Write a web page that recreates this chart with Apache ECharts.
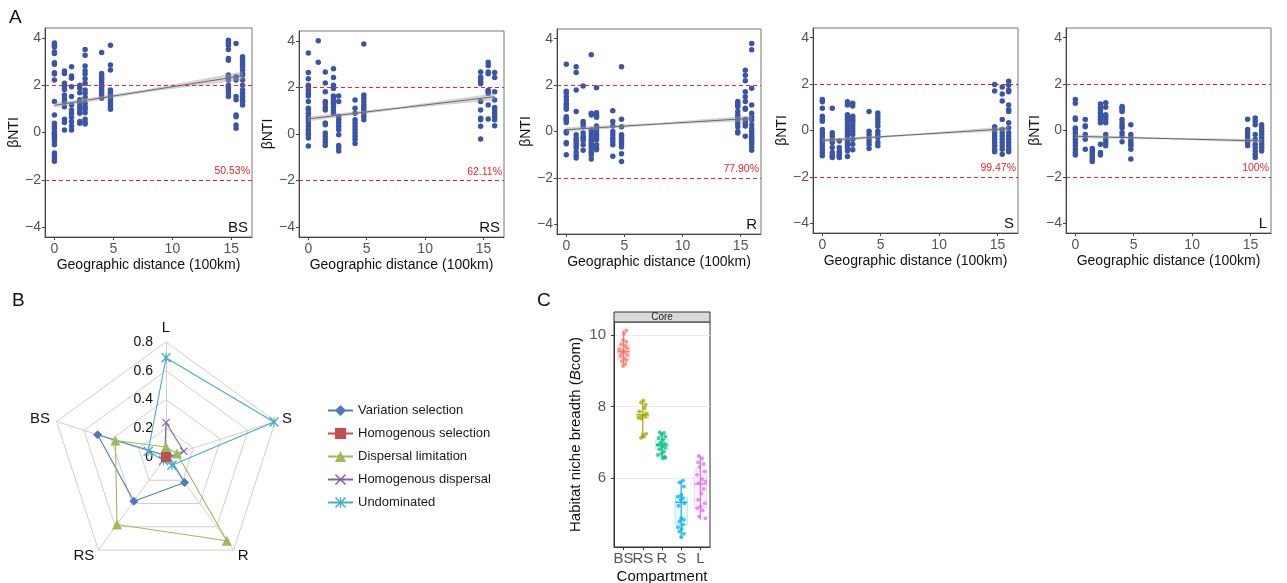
<!DOCTYPE html>
<html>
<head>
<meta charset="utf-8">
<title>βNTI and habitat niche breadth</title>
<script src="https://cdn.jsdelivr.net/npm/echarts@6/dist/echarts.min.js"></script>
<style>
  html, body { margin: 0; padding: 0; background: #fff; }
  #chart { width: 1287px; height: 583px; }
</style>
</head>
<body>
<div id="chart"></div>
<script>
// ---------- A: βNTI vs geographic distance ----------
const distCols = [0, 0.85, 1.45, 2.15, 2.6, 4.0, 4.75, 14.75, 15.4, 15.95];
const compartments = ['BS', 'RS', 'R', 'S', 'L'];

const ntiBS = [
  [3.79, 3.69, 3.62, 3.41, 3.34, 2.95, 2.89, 2.53, 2.47, 2.22, 1.31, 0.74, 0.39, 0.28, 0.18, 0.04, -0.03, -0.1, -0.17, -0.28, -0.38, -0.52, -0.87, -0.98, -1.12, -1.22],
  [2.6, 2.5, 2.08, 1.96, 1.82, 1.59, 1.45, 1.31, 1.09, 0.56, 0.42, 0.11],
  [2.78, 2.39, 2.29, 1.94, 1.52, 1.16, 0.95, 0.81, 0.65, 0.46, 0.28, 0.11],
  [2.0, 1.87, 1.68, 1.38, 1.26, 1.12, 1.02, 0.88, 0.81, 0.46, 0.39],
  [3.51, 3.27, 2.81, 2.61, 2.47, 2.27, 2.08, 1.8, 1.66, 1.49, 1.24, 1.09, 0.98, 0.84, 0.56, 0.42, 0.36],
  [3.38, 2.5, 2.39, 2.29, 2.22, 2.11, 2.0, 1.91, 1.8, 1.68, 1.59, 1.45],
  [3.69, 2.85, 2.64, 1.8, 1.68, 1.59, 1.52, 1.4, 1.31, 1.21, 1.09, 0.98],
  [3.9, 3.79, 3.69, 3.51, 3.13, 3.06, 2.43, 2.36, 2.22, 2.0, 1.91, 1.8, 1.68, 1.52],
  [3.76, 2.36, 2.22, 1.52, 1.38, 0.74, 0.67, 0.32, 0.18],
  [3.2, 3.09, 2.99, 2.89, 2.78, 2.64, 2.5, 2.43, 2.22, 2.0, 1.8, 1.66, 1.52, 1.38, 1.31, 1.16]
];
const ntiRS = [
  [3.48, 2.64, 2.37, 2.09, 2.02, 1.88, 1.74, 1.63, 1.39, 1.1, 1.03, 0.89, 0.75, 0.61, 0.47, 0.33, 0.18, 0.04, -0.03, -0.17, -0.52],
  [4.0, 3.08],
  [2.66, 2.19, 1.81, 1.39, 1.29, 1.14, 1.03, 0.47, 0.4, 0.04, -0.1, -0.24, -0.35, -0.49],
  [2.8, 2.42, 2.09, 1.95, 1.63, 1.53, 1.39, 1.31, 1.17, 1.03, 0.89],
  [1.63, 1.39, 0.75, 0.61, 0.47, 0.33, 0.18, -0.03, -0.49, -0.59, -0.73],
  [1.46, 1.1, 0.89, 0.61, 0.47, 0.33, 0.18, 0.04, -0.1, -0.24, -0.41],
  [3.86, 1.67, 1.53, 1.39, 1.24, 1.14, 1.03, 0.89, 0.75, 0.61],
  [2.66, 2.45, 2.37, 2.23, 2.16, 1.39, 1.03, 0.68, 0.61, 0.33, -0.21],
  [3.08, 2.94, 2.66, 2.59, 1.88, 1.81, 1.74, 1.24, 0.64],
  [2.64, 2.42, 1.81, 1.46, 1.14, 1.03, 0.89, 0.75, 0.61, 0.35]
];
const ntiR = [
  [2.9, 1.74, 1.67, 1.5, 1.36, 1.21, 1.14, 1.04, 0.96, 0.64, 0.57, 0.53, 0.46, 0.39, 0, -0.07, -0.47, -0.53, -1.0],
  [2.79, 2.54, 1.79, 0.86, -0.14, -0.29, -0.39, -0.5, -0.61, -0.71, -0.9, -1.04, -1.14],
  [1.96, 0.43, 0.33, 0.21, -0.07, -0.21, -0.29, -0.39, -0.57, -0.81],
  [3.31, 0.79, 0.71, 0.07, -0.07, -0.21, -0.33, -0.43, -0.53, -0.64, -0.76, -0.9, -1.0, -1.19],
  [1.89, 0.81, 0.71, 0.61, 0.24, 0.14, 0, -0.14, -0.24, -0.36, -0.57, -0.71, -0.79],
  [0.9, 0.43, 0.24, 0, -0.14, -0.29, -0.43, -0.57, -1.07],
  [2.79, 0.53, 0.21, -0.14, -0.21, -0.33, -0.43, -0.53, -0.67, -0.96, -1.29],
  [1.29, 1.21, 1.14, 1.07, 0.86, 0.71, 0.64, 0.5, 0.36, 0.21, 0, -0.07],
  [2.64, 2.43, 2.19, 1.71, 1.5, 1.29, 1.0, 0.96, 0.53, 0.43, 0.33, 0.24, -0.21],
  [3.79, 3.53, 1.86, 1.14, 0.79, 0.64, 0.5, 0.29, 0.14, 0, -0.14, -0.24, -0.33, -0.43, -0.53, -0.67, -0.81]
];
const ntiS = [
  [1.34, 1.24, 0.96, 0.61, 0.49, 0.4, 0.04, -0.1, -0.24, -0.38, -0.52, -0.66, -0.81, -0.95, -1.09],
  [0.96, -0.1, -0.24, -0.38, -0.52, -0.73, -0.95, -1.09, -1.16],
  [-0.45, -0.73, -0.88, -0.95, -1.02, -1.09, -1.16],
  [1.24, 1.1, 0.68, 0.58, 0.47, 0.33, 0.18, 0.04, -0.1, -0.24, -0.45, -0.59, -0.73, -0.88, -1.12],
  [1.17, 1.06, 0.61, 0.49, 0.4, 0.25, 0.11, -0.03, -0.17, -0.38, -0.59, -0.83],
  [0.82, -0.03, -0.17, -0.31, -0.45, -0.59, -0.78],
  [0.75, 0.61, 0.47, 0.33, 0.18, -0.03, -0.17, -0.31, -0.52, -0.66],
  [1.98, 1.7, 0.16, 0.04, -0.1, -0.24, -0.38, -0.52, -0.66, -0.81, -0.92],
  [1.88, 1.57, 1.27, 0.47, 0.04, -0.1, -0.24, -0.38, -0.52, -0.66, -0.81, -1.02],
  [2.12, 1.95, 1.74, 1.67, 1.1, 0.89, 0.82, 0.33, 0.11, -0.1, -0.24, -0.38, -0.52, -0.66, -0.81, -0.92]
];
const ntiL = [
  [1.34, 1.17, 0.54, 0.47, 0.11, 0.04, -0.1, -0.24, -0.38, -0.52, -0.66, -0.81, -0.95, -1.06],
  [0.47, 0.21, 0.16, -0.17, -0.38, -0.81],
  [-0.78, -0.88, -0.95, -1.06, -1.16, -1.26, -1.34],
  [1.14, 1.0, 0.89, 0.75, 0.61, 0.47, 0.33, -0.59, -0.95, -1.06],
  [1.2, 1.0, 0.68, 0.58, 0.47, 0.33, -0.17, -0.38, -0.52, -0.66],
  [1.03, 0.96, 0.89, 0.82, 0.47, 0.33, 0.21, 0.11, -0.1, -0.24, -0.49],
  [0.25, -0.17, -0.31, -0.45, -0.55, -0.66, -0.81, -1.23],
  [0.49, 0.04, -0.1, -0.24, -0.38, -0.52, -0.66],
  [0.54, 0.4, 0.25, -0.17, -0.38, -0.59, -0.73, -0.88, -1.02, -1.16],
  [0.25, 0.11, -0.03, -0.17, -0.31, -0.45, -0.59, -0.73, -0.88]
];
const ntiAll = [ntiBS, ntiRS, ntiR, ntiS, ntiL];

// linear fit at distance 0 and at the last column, and half width of the band (start, middle, end)
const fitStart = [1.15, 0.65, 0.08, -0.43, -0.25];
const fitEnd = [2.4, 1.6, 0.57, 0.08, -0.45];
const bandHalf = [[0.1, 0.06, 0.18], [0.1, 0.05, 0.15], [0.1, 0.05, 0.12], [0.08, 0.04, 0.1], [0.08, 0.04, 0.08]];
const pctLabels = ['50.53%', '62.11%', '77.90%', '99.47%', '100%'];
const ntiTicks = [-4, -2, 0, 2, 4];
const distTicks = [0, 5, 10, 15];

// ---------- B: radar of assembly processes ----------
const radarAxes = ['L', 'BS', 'RS', 'R', 'S'];
const processNames = ['Variation selection', 'Homogenous selection', 'Dispersal limitation', 'Homogenous dispersal', 'Undominated'];
const variationSel = [0.01, 0.5, 0.38, 0.22, 0.02];
const homogSel = [0, 0, 0, 0, 0];
const dispersalLim = [0.07, 0.37, 0.58, 0.72, 0.08];
const homogDisp = [0.24, 0.01, 0.01, 0.01, 0.13];
const undominated = [0.69, 0.13, 0.03, 0.07, 0.79];

// ---------- C: habitat niche breadth ----------
// [min, q1, median, q3, max]
const bcomBox = [
  [9.13, 9.3, 9.53, 9.72, 10.12],
  [7.13, 7.67, 7.77, 7.86, 8.17],
  [6.56, 6.8, 6.93, 7.08, 7.28],
  [4.33, 4.7, 5.33, 5.47, 5.94],
  [4.84, 5.17, 5.84, 6.2, 6.63]
];
const bcomPts = [
  [[0.14, 10.12], [0.02, 10.03], [-0.03, 9.86], [0.14, 9.81], [-0.12, 9.74], [0.09, 9.69], [0.19, 9.63], [-0.21, 9.6], [-0.03, 9.56], [0.09, 9.52], [-0.09, 9.49], [0.19, 9.44], [-0.16, 9.41], [0.02, 9.35], [0.14, 9.3], [-0.09, 9.26], [0.09, 9.19], [-0.03, 9.13]],
  [[0.03, 8.17], [-0.09, 8.11], [0.14, 8.05], [0.09, 7.95], [-0.17, 7.86], [0.17, 7.8], [-0.03, 7.74], [-0.21, 7.69], [0.14, 7.72], [-0.09, 7.67], [0.17, 7.24], [0.0, 7.21], [0.05, 7.16], [-0.09, 7.13]],
  [[-0.12, 7.28], [0.1, 7.26], [-0.03, 7.21], [0.17, 7.16], [-0.17, 7.12], [0.05, 7.07], [-0.07, 7.0], [0.14, 6.96], [-0.21, 6.93], [0.0, 6.88], [0.17, 6.86], [-0.12, 6.81], [0.1, 6.74], [-0.03, 6.68], [0.14, 6.6], [0.05, 6.56], [0.17, 6.57], [-0.21, 6.65]],
  [[0.09, 5.93], [-0.09, 5.88], [0.14, 5.77], [0.0, 5.53], [-0.17, 5.49], [0.09, 5.44], [-0.03, 5.4], [0.17, 5.3], [-0.14, 5.23], [0.0, 4.88], [0.14, 4.84], [-0.09, 4.79], [0.09, 4.7], [-0.17, 4.63], [0.03, 4.58], [-0.09, 4.51], [0.14, 4.45], [0.0, 4.35]],
  [[-0.09, 6.62], [0.09, 6.56], [-0.12, 6.44], [0.17, 6.4], [-0.05, 6.31], [0.23, 6.19], [-0.17, 6.1], [0.09, 5.98], [0.26, 5.91], [-0.09, 5.86], [0.17, 5.7], [0.05, 5.57], [-0.12, 5.4], [0.23, 5.3], [0.0, 5.21], [-0.17, 5.16], [0.12, 5.1], [-0.05, 4.93], [0.26, 4.88]]
];
const bcomTicks = [6, 8, 10];

const FONT = 'Liberation Sans, Arial, Helvetica, sans-serif';
const W = 1287, H = 583;
const boxA = [[45, 28, 207, 209], [299, 31, 205, 206], [557, 29, 204, 205], [813, 28, 205, 205], [1066, 28, 205, 205]];
const compColors = ['#F8766D', '#A3A500', '#00BF7D', '#00B0F6', '#E76BF3'];
const procColors = ['#4a7ebb', '#c0504d', '#9bbb59', '#8064a2', '#4bacc6'];
const procSymbols = [
  'diamond',
  'rect',
  'triangle',
  'path://M0,1L1,0L5,4L9,0L10,1L6,5L10,9L9,10L5,6L1,10L0,9L4,5Z',
  'path://M0,1L1,0L5,4L9,0L10,1L6,5L10,9L9,10L5,6L1,10L0,9L4,5Z M4.5,0L5.5,0L5.5,10L4.5,10Z'
];
const procSizes = [9, 10, 10, 8, 10];
const procValues = [variationSel, homogSel, dispersalLim, homogDisp, undominated];
const minus = v => String(v).replace('-', '\u2212');

const chart = echarts.init(document.getElementById('chart'));

const grids = [], xAxes = [], yAxes = [], series = [], graphics = [];

boxA.forEach((b, i) => {
  grids.push({ left: b[0], top: b[1], width: b[2], height: b[3], show: true, borderColor: '#777', borderWidth: 1, outerBoundsMode: 'none' });
  xAxes.push({
    type: 'value', gridIndex: i, min: -0.8, max: 16.75, splitNumber: 4,
    name: 'Geographic distance (100km)', nameLocation: 'middle', nameGap: 21,
    nameTextStyle: { color: '#111', fontSize: 14, fontFamily: FONT },
    axisLine: { show: true, onZero: false, lineStyle: { color: '#444' } },
    axisTick: { show: true, length: 3, customValues: distTicks, lineStyle: { color: '#444' } },
    axisLabel: { customValues: distTicks, margin: 5, color: '#555', fontSize: 14, fontFamily: FONT },
    splitLine: { show: false }
  });
  yAxes.push({
    type: 'value', gridIndex: i, min: -4.42, max: 4.42,
    name: 'βNTI', nameLocation: 'middle', nameGap: 23,
    nameTextStyle: { color: '#111', fontSize: 14, fontFamily: FONT },
    axisLine: { show: true, onZero: false, lineStyle: { color: '#444' } },
    axisTick: { show: true, length: 3, customValues: ntiTicks, lineStyle: { color: '#444' } },
    axisLabel: { customValues: ntiTicks, margin: 4, color: '#555', fontSize: 14, fontFamily: FONT, formatter: minus },
    splitLine: { show: false }
  });
  const pts = [];
  distCols.forEach((x, k) => ntiAll[i][k].forEach(y => pts.push([x, y])));
  series.push({
    type: 'scatter', xAxisIndex: i, yAxisIndex: i, data: pts,
    symbolSize: 5.5, itemStyle: { color: '#3a55a6', opacity: 1 }, z: 2,
    markLine: {
      silent: true, symbol: 'none', animation: false,
      lineStyle: { color: '#e8262d', type: [4, 3], width: 1 },
      label: { show: false },
      data: [
        { yAxis: 2 },
        { yAxis: -2, label: { show: true, position: 'insideEndTop', formatter: pctLabels[i], color: '#e8262d', fontSize: 10.5, fontFamily: FONT, distance: [2, 3] } }
      ]
    }
  });
  const xEnd = distCols[distCols.length - 1];
  series.push({
    type: 'custom', xAxisIndex: i, yAxisIndex: i, z: 3, silent: true,
    data: [[0, fitStart[i]]], encode: { x: 0, y: 1 },
    renderItem: (params, api) => {
      const xs = [0, xEnd / 2, xEnd];
      const ys = [fitStart[i], (fitStart[i] + fitEnd[i]) / 2, fitEnd[i]];
      const up = xs.map((x, k) => api.coord([x, ys[k] + bandHalf[i][k]]));
      const lo = xs.map((x, k) => api.coord([x, ys[k] - bandHalf[i][k]])).reverse();
      return { type: 'polygon', shape: { points: up.concat(lo) }, style: { fill: 'rgba(160,160,160,0.45)' } };
    }
  });
  series.push({
    type: 'line', xAxisIndex: i, yAxisIndex: i, z: 4, silent: true,
    data: [[0, fitStart[i]], [xEnd, fitEnd[i]]],
    symbol: 'none', lineStyle: { color: '#6a6a6a', width: 1 }
  });
  graphics.push({
    type: 'text', right: W - (b[0] + b[2]) + 4, bottom: H - (b[1] + b[3]) + 2,
    style: { text: compartments[i], fill: '#111', fontSize: 15, fontFamily: FONT }
  });
});

// C grid (index 5)
grids.push({ left: 614, top: 322, width: 96, height: 225, show: true, borderColor: '#333', borderWidth: 1, outerBoundsMode: 'none' });
xAxes.push({
  type: 'category', gridIndex: 5, data: compartments,
  name: 'Compartment', nameLocation: 'middle', nameGap: 22,
  nameTextStyle: { color: '#111', fontSize: 15, fontFamily: FONT },
  axisLine: { show: true, lineStyle: { color: '#333' } },
  axisTick: { show: true, length: 3, alignWithLabel: true, lineStyle: { color: '#333' } },
  axisLabel: { margin: 4, color: '#555', fontSize: 15, fontFamily: FONT, interval: 0 },
  splitLine: { show: false }
});
xAxes.push({ type: 'value', gridIndex: 5, min: -0.5, max: 4.5, show: false });
yAxes.push({
  type: 'value', gridIndex: 5, min: 4.08, max: 10.36, splitNumber: 6,
  name: 'Habitat niche breadth ({i|B}com)', nameLocation: 'middle', nameGap: 31,
  nameTextStyle: { color: '#111', fontSize: 15, fontFamily: FONT, rich: { i: { fontStyle: 'italic', fontSize: 15, fontFamily: FONT, color: '#111' } } },
  axisLine: { show: true, onZero: false, lineStyle: { color: '#333' } },
  axisTick: { show: true, length: 3, customValues: bcomTicks, lineStyle: { color: '#333' } },
  axisLabel: { customValues: bcomTicks, margin: 8, color: '#555', fontSize: 15, fontFamily: FONT },
  splitLine: { show: true, lineStyle: { color: '#ebebeb', width: 1 } }
});

series.push({
  type: 'custom', xAxisIndex: 5, yAxisIndex: 5, z: 2, silent: true,
  data: bcomBox.map((b, k) => [k].concat(b)),
  encode: { x: 0, y: [1, 2, 3, 4, 5] },
  renderItem: (params, api) => {
    const k = api.value(0);
    const col = compColors[k];
    const bw = api.size([1, 0])[0] * 0.64;
    const pMin = api.coord([k, api.value(1)]);
    const pQ1 = api.coord([k, api.value(2)]);
    const pMed = api.coord([k, api.value(3)]);
    const pQ3 = api.coord([k, api.value(4)]);
    const pMax = api.coord([k, api.value(5)]);
    return {
      type: 'group',
      children: [
        { type: 'rect', shape: { x: pQ3[0] - bw / 2, y: pQ3[1], width: bw, height: pQ1[1] - pQ3[1] },
          style: { fill: echarts.color.modifyAlpha(col, 0.06), stroke: echarts.color.modifyAlpha(col, 0.3), lineWidth: 1 } },
        { type: 'line', shape: { x1: pMax[0], y1: pMax[1], x2: pMin[0], y2: pMin[1] }, style: { stroke: col, lineWidth: 1.2 } },
        { type: 'line', shape: { x1: pMed[0] - bw / 2, y1: pMed[1], x2: pMed[0] + bw / 2, y2: pMed[1] }, style: { stroke: col, lineWidth: 1.3 } }
      ]
    };
  }
});
bcomPts.forEach((pts, k) => {
  series.push({
    type: 'scatter', xAxisIndex: 6, yAxisIndex: 5, z: 3,
    data: pts.map(p => [k + p[0], p[1]]),
    symbolSize: 4, itemStyle: { color: compColors[k], opacity: 0.75 }
  });
});

// B radar
processNames.forEach((nm, k) => {
  series.push({
    type: 'radar', radarIndex: 0, z: 3 + (k === 1 ? 2 : 0),
    data: [{
      name: nm, value: procValues[k],
      symbol: procSymbols[k], symbolSize: procSizes[k],
      itemStyle: { color: procColors[k] },
      lineStyle: { color: procColors[k], width: 1.1 }
    }]
  });
  // legend carrier (line icon with marker)
  series.push({
    type: 'line', name: nm, xAxisIndex: 0, yAxisIndex: 0, data: [],
    symbol: procSymbols[k], symbolSize: procSizes[k] - 1,
    itemStyle: { color: procColors[k] }, lineStyle: { color: procColors[k], width: 1.5 }
  });
});

graphics.push(
  { type: 'text', left: 9, top: 8, style: { text: 'A', fontSize: 19, fill: '#111', fontFamily: FONT } },
  { type: 'text', left: 12, top: 291, style: { text: 'B', fontSize: 19, fill: '#111', fontFamily: FONT } },
  { type: 'text', left: 537, top: 291, style: { text: 'C', fontSize: 19, fill: '#111', fontFamily: FONT } },
  { type: 'rect', shape: { x: 614, y: 312, width: 96, height: 10 }, style: { fill: '#d9d9d9', stroke: '#333', lineWidth: 1 } },
  { type: 'text', x: 662, y: 317, style: { text: 'Core', fontSize: 10, fill: '#1a1a1a', fontFamily: FONT, align: 'center', verticalAlign: 'middle' } }
);

chart.setOption({
  animation: false,
  textStyle: { fontFamily: FONT },
  grid: grids,
  xAxis: xAxes,
  yAxis: yAxes,
  radar: {
    center: [166, 457], radius: 115, startAngle: 90, splitNumber: 4, shape: 'polygon',
    nameGap: 7,
    axisName: { color: '#111', fontSize: 15, fontFamily: FONT },
    indicator: radarAxes.map((n, k) => k === 0
      ? { name: n, min: 0, max: 0.8, axisLabel: { show: true } }
      : { name: n, min: 0, max: 0.8 }),
    splitLine: { lineStyle: { color: '#cfcfcf', width: 1 } },
    splitArea: { show: false },
    axisLine: { lineStyle: { color: '#cfcfcf' } },
    axisTick: { show: false },
    axisLabel: { show: false, color: '#111', fontSize: 14, fontFamily: FONT, margin: 13 }
  },
  legend: {
    data: processNames, orient: 'vertical', left: 327, top: 404, padding: 0,
    itemWidth: 25, itemHeight: 14, itemGap: 10,
    textStyle: { color: '#1a1a1a', fontSize: 13, fontFamily: FONT }
  },
  graphic: graphics,
  series: series
});
</script>
</body>
</html>
